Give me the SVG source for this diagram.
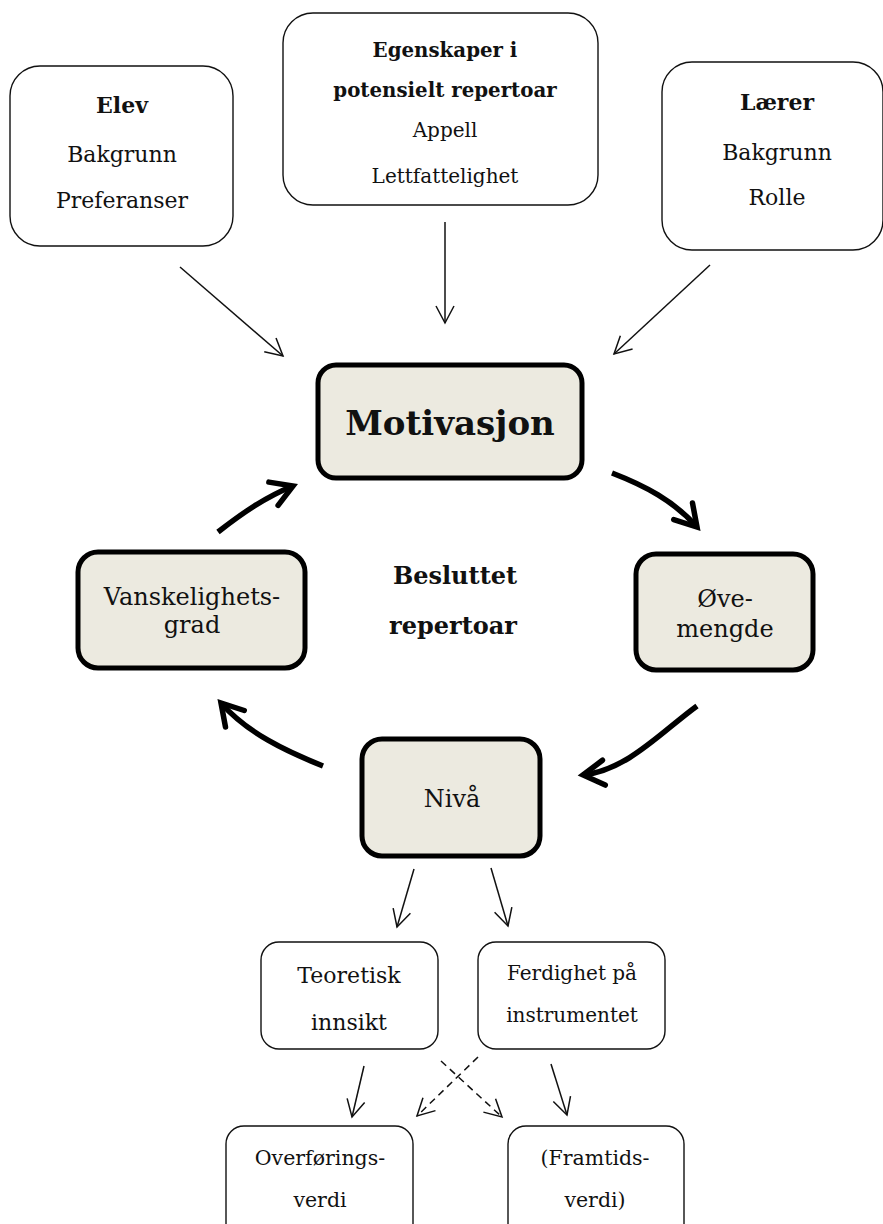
<svg xmlns="http://www.w3.org/2000/svg" width="883" height="1224" viewBox="0 0 883 1224">
<style>
  text { font-family: "DejaVu Serif", "Liberation Serif", serif; fill: #111; text-anchor: middle; }
  .b { font-weight: bold; }
  .thin { fill: #fff; stroke: #111; stroke-width: 1.4; }
  .thick { fill: #ECEAE0; stroke: #000; stroke-width: 5; }
  .f24 { font-size: 24px; }
  .f22 { font-size: 22px; }
  .f20 { font-size: 20px; }
  .ln { fill: none; stroke: #111; stroke-width: 1.5; }
  .dash { stroke-dasharray: 7 5; }
  .cyc { fill: none; stroke: #000; stroke-width: 5.5; }
</style>
<defs>
  <marker id="ah" markerUnits="userSpaceOnUse" viewBox="-20 -12 22 24" refX="0" refY="0" markerWidth="22" markerHeight="24" orient="auto" overflow="visible">
    <path d="M-17,-9 L0,0 L-17,9" fill="none" stroke="#111" stroke-width="1.5"/>
  </marker>
  <marker id="ahk" markerUnits="userSpaceOnUse" viewBox="-25 -15 28 30" refX="0" refY="0" markerWidth="28" markerHeight="30" orient="auto" overflow="visible">
    <path d="M-21,-12.5 L0,0 L-21,12.5" fill="none" stroke="#000" stroke-width="5.5" stroke-linecap="round" stroke-linejoin="miter"/>
  </marker>
</defs>
<rect width="883" height="1224" fill="#fff"/>

<g id="elev">
  <rect class="thin" x="10" y="66" width="223" height="180" rx="30"/>
  <text class="b f22" x="122" y="113">Elev</text>
  <text class="f22" x="122" y="162">Bakgrunn</text>
  <text class="f22" x="122" y="208">Preferanser</text>
</g>
<g id="egenskaper">
  <rect class="thin" x="283" y="13" width="315" height="192" rx="30"/>
  <text class="b" font-size="19.8" x="445" y="57">Egenskaper i</text>
  <text class="b" font-size="19.8" x="445" y="97">potensielt repertoar</text>
  <text class="f20" x="445" y="137">Appell</text>
  <text class="f20" x="445" y="183">Lettfattelighet</text>
</g>
<g id="laerer">
  <rect class="thin" x="662" y="62" width="221" height="188" rx="30"/>
  <text class="b f22" x="777" y="110">Lærer</text>
  <text class="f22" x="777" y="160">Bakgrunn</text>
  <text class="f22" x="777" y="205">Rolle</text>
</g>
<g id="motivasjon">
  <rect class="thick" x="318" y="365" width="264" height="113" rx="18"/>
  <text class="b" x="450" y="435" font-size="34">Motivasjon</text>
</g>
<g id="vanskelighetsgrad">
  <rect class="thick" x="78" y="552" width="227" height="116" rx="20"/>
  <text class="f24" x="192" y="605">Vanskelighets-</text>
  <text class="f24" x="192" y="633">grad</text>
</g>
<g id="besluttet">
  <text class="b f24" x="455" y="584">Besluttet</text>
  <text class="b f24" x="453" y="634">repertoar</text>
</g>
<g id="ovemengde">
  <rect class="thick" x="636" y="554" width="177" height="116" rx="20"/>
  <text class="f24" x="725" y="607">Øve-</text>
  <text class="f24" x="725" y="637">mengde</text>
</g>
<g id="niva">
  <rect class="thick" x="362" y="739" width="178" height="117" rx="20"/>
  <text class="f24" x="452" y="807">Nivå</text>
</g>
<g id="teoretisk">
  <rect class="thin" x="261" y="942" width="177" height="107" rx="18"/>
  <text class="f22" x="349" y="983">Teoretisk</text>
  <text class="f22" x="349" y="1030">innsikt</text>
</g>
<g id="ferdighet">
  <rect class="thin" x="478" y="942" width="187" height="107" rx="18"/>
  <text class="f20" x="572" y="980">Ferdighet på</text>
  <text class="f20" x="572" y="1022">instrumentet</text>
</g>
<g id="overforingsverdi">
  <rect class="thin" x="226" y="1126" width="187" height="120" rx="18"/>
  <text font-size="20.5" x="320" y="1165">Overførings-</text>
  <text font-size="20.5" x="320" y="1207">verdi</text>
</g>
<g id="framtidsverdi">
  <rect class="thin" x="508" y="1126" width="176" height="120" rx="18"/>
  <text font-size="20.5" x="595" y="1165">(Framtids-</text>
  <text font-size="20.5" x="595" y="1207">verdi)</text>
</g>

<g id="connectors">
  <line class="ln" x1="180" y1="267" x2="283" y2="356" marker-end="url(#ah)"/>
  <line class="ln" x1="445" y1="222" x2="445" y2="323" marker-end="url(#ah)"/>
  <line class="ln" x1="710" y1="265" x2="614" y2="354" marker-end="url(#ah)"/>
  <path class="cyc" d="M612,473 C644.6,485.6 673.9,500.8 697,527" marker-end="url(#ahk)"/>
  <path class="cyc" d="M697,706 C660.6,732.5 627.5,770 583,775" marker-end="url(#ahk)"/>
  <path class="cyc" d="M323,766 C285.8,751.2 247.4,733 221,703" marker-end="url(#ahk)"/>
  <path class="cyc" d="M218,532 C241.7,513.7 265.1,497.1 293,486" marker-end="url(#ahk)"/>
  <line class="ln" x1="414" y1="869" x2="397" y2="927" marker-end="url(#ah)"/>
  <line class="ln" x1="491" y1="868" x2="508" y2="926" marker-end="url(#ah)"/>
  <line class="ln" x1="364" y1="1066" x2="352" y2="1117" marker-end="url(#ah)"/>
  <line class="ln" x1="551" y1="1064" x2="567" y2="1115" marker-end="url(#ah)"/>
  <line class="ln dash" x1="478" y1="1057" x2="417" y2="1116" marker-end="url(#ah)"/>
  <line class="ln dash" x1="441" y1="1061" x2="502" y2="1117" marker-end="url(#ah)"/>
</g>
</svg>
